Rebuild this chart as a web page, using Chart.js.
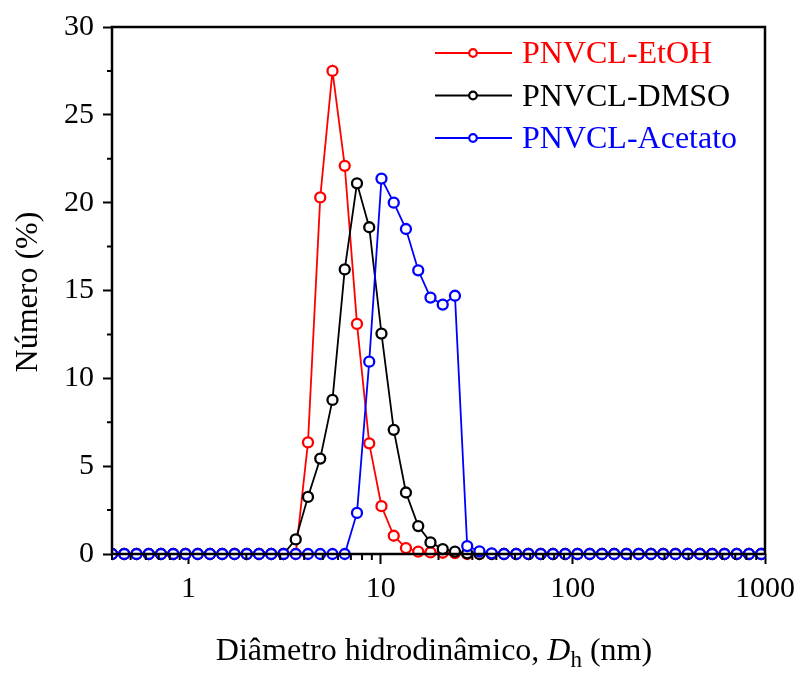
<!DOCTYPE html>
<html lang="pt">
<head>
<meta charset="utf-8">
<title>Distribuição de tamanho - PNVCL</title>
<script src="https://cdn.jsdelivr.net/npm/chart.js@4.4.0/dist/chart.umd.min.js"></script>
<style>
  html, body { margin: 0; padding: 0; background: #fff; }
  #grafico { display: block; }
</style>
</head>
<body>
<canvas id="grafico" width="802" height="673"></canvas>
<script>
// Classes de diâmetro do DLS (nm)
const diametros = [0.4, 0.4632, 0.5365, 0.6213, 0.7195, 0.8332, 0.9649, 1.117, 1.294, 1.499,
    1.736, 2.01, 2.328, 2.696, 3.122, 3.615, 4.187, 4.849, 5.615, 6.503,
    7.531, 8.721, 10.1, 11.7, 13.54, 15.69, 18.17, 21.04, 24.36, 28.21,
    32.67, 37.84, 43.82, 50.75, 58.77, 68.06, 78.82, 91.28, 105.7, 122.4,
    141.8, 164.2, 190.1, 220.2, 255.0, 295.3, 342.0, 396.1, 458.7, 531.2,
    615.1, 712.4, 825.0, 955.4];

// Número (%) por classe
const etoh = [0, 0, 0, 0, 0, 0, 0, 0, 0, 0,
    0, 0, 0, 0, 0, 0, 6.35, 20.3, 27.5, 22.1,
    13.1, 6.3, 2.72, 1.04, 0.34, 0.13, 0.09, 0.07, 0.05, 0,
    0, 0, 0, 0, 0, 0, 0, 0, 0, 0,
    0, 0, 0, 0, 0, 0, 0, 0, 0, 0,
    0, 0, 0, 0];
const dmso = [0, 0, 0, 0, 0, 0, 0, 0, 0, 0,
    0, 0, 0, 0, 0, 0.83, 3.25, 5.43, 8.77, 16.2,
    21.1, 18.6, 12.55, 7.07, 3.5, 1.59, 0.66, 0.28, 0.13, 0.04,
    0, 0, 0, 0, 0, 0, 0, 0, 0, 0,
    0, 0, 0, 0, 0, 0, 0, 0, 0, 0,
    0, 0, 0, 0];
const acetato = [0, 0, 0, 0, 0, 0, 0, 0, 0, 0,
    0, 0, 0, 0, 0, 0, 0, 0, 0, 0,
    2.34, 10.95, 21.37, 20.0, 18.5, 16.15, 14.6, 14.2, 14.7, 0.45,
    0.15, 0.04, 0, 0, 0, 0, 0, 0, 0, 0,
    0, 0, 0, 0, 0, 0, 0, 0, 0, 0,
    0, 0, 0, 0];

const nomes = ['PNVCL-EtOH', 'PNVCL-DMSO', 'PNVCL-Acetato'];
const cores = ['#ff0000', '#000000', '#0000ff'];
const ticksX = [1, 10, 100, 1000];
const ticksY = [0, 5, 10, 15, 20, 25, 30];

const fonte = "'Liberation Serif', 'Times New Roman', serif";

// Ticks menores: 2..9 em cada década e meio passo no eixo y
const menoresX = [];
[0.1, 1, 10, 100].forEach(dec => {
    for (let k = 2; k <= 9; k++) {
        const v = k * dec;
        if (v >= 0.4 && v <= 1000) menoresX.push(v);
    }
});
const menoresY = ticksY.slice(1).map(v => v - 2.5);

function pontos(serie) {
    return diametros.map((d, i) => ({ x: d, y: serie[i] }));
}

function dataset(serie, idx) {
    return {
        label: nomes[idx],
        data: pontos(serie),
        borderColor: cores[idx],
        borderWidth: 1.8,
        pointBorderColor: cores[idx],
        pointBackgroundColor: '#ffffff',
        pointBorderWidth: 2.3,
        pointRadius: 5,
        tension: 0,
        order: 3 - idx,
        clip: { left: 0, right: 0, top: false, bottom: false }
    };
}

// Moldura, ticks menores, títulos dos eixos e legenda
const extras = {
    id: 'extras',
    afterDraw(chart) {
        const ctx = chart.ctx;
        const a = chart.chartArea;
        const sx = chart.scales.x;
        const sy = chart.scales.y;
        ctx.save();

        ctx.strokeStyle = '#000';
        ctx.lineWidth = 2.5;
        ctx.strokeRect(a.left, a.top, a.right - a.left, a.bottom - a.top);

        ctx.lineWidth = 2;
        ctx.beginPath();
        menoresX.forEach(v => {
            const px = sx.getPixelForValue(v);
            ctx.moveTo(px, a.bottom);
            ctx.lineTo(px, a.bottom + 6);
        });
        menoresY.forEach(v => {
            const py = sy.getPixelForValue(v);
            ctx.moveTo(a.left, py);
            ctx.lineTo(a.left - 5, py);
        });
        ctx.stroke();

        // Título do eixo x com D itálico e h subscrito
        ctx.fillStyle = '#000';
        ctx.textBaseline = 'alphabetic';
        ctx.textAlign = 'left';
        const partes = [
            { t: 'Diâmetro hidrodinâmico, ', f: '32px ' + fonte, dy: 0 },
            { t: 'D', f: 'italic 32px ' + fonte, dy: 0 },
            { t: 'h', f: '23px ' + fonte, dy: 7 },
            { t: ' (nm)', f: '32px ' + fonte, dy: 0 }
        ];
        let total = 0;
        partes.forEach(p => { ctx.font = p.f; p.w = ctx.measureText(p.t).width; total += p.w; });
        let x = 434 - total / 2;
        partes.forEach(p => {
            ctx.font = p.f;
            ctx.fillText(p.t, x, 660 + p.dy);
            x += p.w;
        });

        // Título do eixo y
        ctx.save();
        ctx.translate(37, 292);
        ctx.rotate(-Math.PI / 2);
        ctx.textAlign = 'center';
        ctx.font = '32px ' + fonte;
        ctx.fillText('Número (%)', 0, 0);
        ctx.restore();

        // Legenda
        nomes.forEach((nome, i) => {
            const yl = 53 + i * 42.5;
            ctx.strokeStyle = cores[i];
            ctx.lineWidth = 1.8;
            ctx.beginPath();
            ctx.moveTo(435, yl);
            ctx.lineTo(512, yl);
            ctx.stroke();
            ctx.beginPath();
            ctx.arc(473, yl, 3.8, 0, Math.PI * 2);
            ctx.fillStyle = '#fff';
            ctx.fill();
            ctx.lineWidth = 2.2;
            ctx.stroke();
            ctx.fillStyle = cores[i];
            ctx.font = '32px ' + fonte;
            ctx.textAlign = 'left';
            ctx.fillText(nome, 522, yl + 10);
        });

        ctx.restore();
    }
};

Chart.defaults.font.family = fonte;
Chart.defaults.color = '#000';

new Chart(document.getElementById('grafico'), {
    type: 'line',
    data: {
        datasets: [dataset(etoh, 0), dataset(dmso, 1), dataset(acetato, 2)]
    },
    options: {
        responsive: false,
        animation: false,
        devicePixelRatio: 1,
        layout: { padding: { left: 0, top: 25, right: 34, bottom: 0 } },
        plugins: {
            legend: { display: false },
            tooltip: { enabled: false }
        },
        scales: {
            x: {
                type: 'logarithmic',
                min: 0.4,
                max: 1000,
                afterBuildTicks: scale => { scale.ticks = ticksX.map(v => ({ value: v })); },
                afterFit: scale => { scale.height = 119; },
                ticks: {
                    autoSkip: false,
                    maxRotation: 0,
                    padding: 7,
                    font: { size: 30 },
                    color: '#000',
                    callback: v => String(v)
                },
                grid: {
                    drawOnChartArea: false,
                    drawTicks: true,
                    tickLength: 10,
                    tickWidth: 2,
                    tickColor: '#000'
                },
                border: { display: false }
            },
            y: {
                min: 0,
                max: 30,
                afterBuildTicks: scale => { scale.ticks = ticksY.map(v => ({ value: v })); },
                afterFit: scale => { scale.width = 112; },
                ticks: {
                    padding: 9,
                    font: { size: 30 },
                    color: '#000',
                    callback: v => String(v)
                },
                grid: {
                    drawOnChartArea: false,
                    drawTicks: true,
                    tickLength: 9,
                    tickWidth: 2,
                    tickColor: '#000'
                },
                border: { display: false }
            }
        }
    },
    plugins: [extras]
});
</script>
</body>
</html>
